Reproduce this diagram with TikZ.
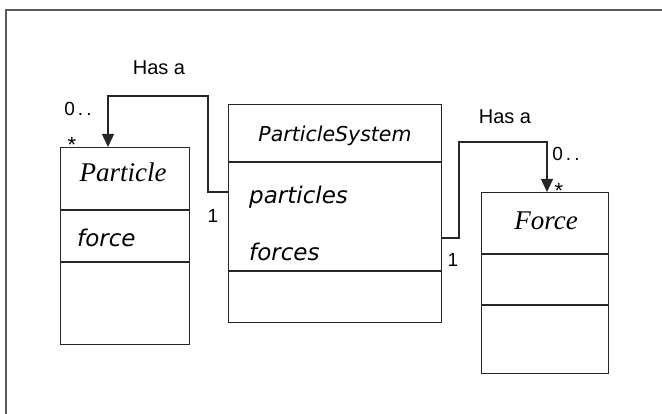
\documentclass[tikz,border=0pt]{standalone}
\usepackage{fontspec}
\usepackage{tikz}
\usetikzlibrary{arrows.meta}

\setmainfont{Liberation Sans}
\newfontfamily\umlsans{DejaVu Sans}
\newfontfamily\umlserif{Liberation Serif}

\newcommand{\labelsize}{\fontsize{20}{20}\selectfont}
\newcommand{\multsize}{\fontsize{19}{19}\selectfont}

\tikzset{
  classbox/.style={shape=rectangle, draw=black!85, line width=1.3pt, anchor=north west, inner sep=0pt},
  divider/.style={draw=black!85, line width=1.3pt},
  classname/.style={inner sep=0pt, font=\umlserif\itshape\fontsize{27}{27}\selectfont},
  sysname/.style={inner sep=0pt, font=\umlsans\itshape\fontsize{20.5}{20.5}\selectfont},
  attr/.style={inner sep=0pt, anchor=west, font=\umlsans\itshape\fontsize{23}{23}\selectfont},
  hasa/.style={-{Triangle[length=13pt,width=12pt]}, draw=black!85, line width=1.3pt},
  mult/.style={inner sep=0pt, font=\multsize},
  star/.style={inner sep=0pt, font=\fontsize{22}{22}\selectfont},
}

\begin{document}
\begin{tikzpicture}[x=1pt, y=-1pt]
    	
    	\useasboundingbox (0,0) rectangle (662,414);
    	\draw[line width=2pt, black!65] (6,414) -- (6,10) -- (662,10);
    	
    	% classes
    	\node[classbox, minimum width=129pt, minimum height=197pt] (part) at (60,147) {};
    	\node[classbox, minimum width=213pt, minimum height=218pt] (psys) at (228,104) {};
    	\node[classbox, minimum width=127pt, minimum height=181pt] (force) at (481,192) {};
    	
    	\draw[divider] (60,210) -- (189,210);
    	\draw[divider] (60,262) -- (189,262);
    	\draw[divider] (228,162) -- (441,162);
    	\draw[divider] (228,271) -- (441,271);
    	\draw[divider] (481,254) -- (608,254);
    	\draw[divider] (481,305) -- (608,305);
    	
    	\node[classname] (partname) at (123,172) {Particle};
    	\node[attr] (partforce) at (77,238) {force};
    	\node[sysname] (psysname) at (335,136) {ParticleSystem};
    	\node[attr] (psyspart) at (249,197) {particles};
    	\node[attr] (psysforce) at (249,252) {forces};
    	\node[classname] (forcename) at (546,221) {Force};
    	
    	% associations
    	\coordinate (partend) at (108,147);
    	\coordinate (psysleft) at (228,192);
    	\coordinate (leftbend) at (208,96);
    	\coordinate (psysright) at (441,238);
    	\coordinate (rightbend) at (459,142);
    	\coordinate (forceend) at (547,192);
    	
    	\draw[hasa] (psysleft) -| (leftbend) -| (partend);
    	\draw[hasa] (psysright) -| (rightbend) -| (forceend);
    	
    	\node[font=\labelsize, inner sep=0pt] (hasaleft) at (159,68) {Has a};
    	\node[mult] (zeroleft) at (78,109) {0\,.\,.};
    	\node[star] (starleft) at (72,145) {*};
    	\node[mult] (oneleft) at (213,216) {1};
    	
    	\node[font=\labelsize, inner sep=0pt] (hasaright) at (505,117) {Has a};
    	\node[mult] (zeroright) at (566,154) {0\,.\,.};
    	\node[star] (starright) at (559,191) {*};
    	\node[mult] (oneright) at (453,260) {1};
    	
\end{tikzpicture}
\end{document}
